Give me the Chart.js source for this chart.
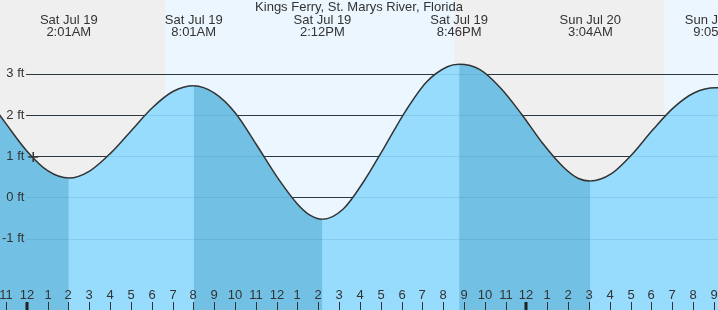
<!DOCTYPE html>
<html lang="en">
<head>
  <meta charset="UTF-8">
  <title>Kings Ferry, St. Marys River, Florida</title>
  <script src="https://cdn.jsdelivr.net/npm/chart.js"></script>
  <style>
    html, body {
      margin: 0;
      padding: 0;
      background: #fff;
    }
    canvas {
      display: block;
    }
  </style>
</head>
<body>
  <canvas id="tideChart" width="718" height="310"></canvas>

  <script>
    // hours after Sat Jul 19 00:00, water level in feet
    const tideHours = [-2, -1, 0, 1, 2.017, 3.017, 4.017, 5.017, 6.017, 7.017, 8.017, 9.017, 10.017, 11.017, 12.017, 13.017, 13.6, 14.2, 15.2, 16.2, 17.2, 18.2, 19.2, 20.2, 20.767, 21.767, 22.767, 23.767, 24.767, 25.767, 26.5, 27.067, 28.067, 29.067, 30.067, 31.067, 32.067, 33.083, 33.3];
    const tideFeet = [2.48, 1.79, 1.13, 0.65, 0.47, 0.64, 1.07, 1.62, 2.17, 2.57, 2.71, 2.53, 2.05, 1.29, 0.50, -0.17, -0.43, -0.53, -0.28, 0.40, 1.24, 2.10, 2.80, 3.17, 3.23, 3.10, 2.65, 2.02, 1.32, 0.74, 0.46, 0.40, 0.57, 1.04, 1.64, 2.18, 2.54, 2.66, 2.66];

    // high / low times and their header labels
    const extremeHours = [2.017, 8.017, 14.2, 20.767, 27.067, 33.083];
    const extremeLabels = [
      ['Sat Jul 19', '2:01AM'],
      ['Sat Jul 19', '8:01AM'],
      ['Sat Jul 19', '2:12PM'],
      ['Sat Jul 19', '8:46PM'],
      ['Sun Jul 20', '3:04AM'],
      ['Sun Jul 20', '9:05AM']
    ];

    // daylight spans (sunrise, sunset)
    const daylight = [[6.64, 20.53], [30.62, 40]];

    // current time marker
    const nowHour = 0.31;
    const nowFeet = 0.98;

    const feetTicks = [-1, 0, 1, 2, 3];
    const hourTicks = [];
    for (let h = -1; h <= 33; h++) hourTicks.push(h);

    const FONT = 'Arial, "Liberation Sans", sans-serif';
    const RISING = '#97dcfd';
    const FALLING = '#72c1e5';

    const tidePoints = tideHours.map((h, i) => ({ x: h, y: tideFeet[i] }));

    const tideDecor = {
      id: 'tideDecor',
      beforeDatasetsDraw(chart) {
        const { ctx, chartArea: a, scales: { x, y } } = chart;
        ctx.save();
        // night / day background
        ctx.fillStyle = '#efefef';
        ctx.fillRect(a.left, a.top, a.width, a.height);
        ctx.fillStyle = '#ebf6fe';
        daylight.forEach(([s, e]) => {
          const x0 = x.getPixelForValue(s);
          const x1 = x.getPixelForValue(e);
          ctx.fillRect(x0, a.top, x1 - x0, a.height);
        });
        // dark grid lines (covered by the water fill)
        ctx.strokeStyle = '#333';
        ctx.lineWidth = 1;
        feetTicks.forEach(v => {
          const py = Math.round(y.getPixelForValue(v)) + 0.5;
          ctx.beginPath();
          ctx.moveTo(26, py);
          ctx.lineTo(a.right, py);
          ctx.stroke();
        });
        ctx.restore();
      },
      afterDatasetsDraw(chart) {
        const { ctx, chartArea: a, scales: { x, y } } = chart;
        ctx.save();
        // faint grid lines through the water
        ctx.strokeStyle = 'rgba(0, 90, 150, 0.13)';
        ctx.lineWidth = 1;
        feetTicks.forEach(v => {
          const py = Math.round(y.getPixelForValue(v)) + 0.5;
          ctx.beginPath();
          ctx.moveTo(26, py);
          ctx.lineTo(a.right, py);
          ctx.stroke();
        });

        // title and high/low labels
        ctx.fillStyle = '#333';
        ctx.font = '13px ' + FONT;
        ctx.textAlign = 'center';
        ctx.textBaseline = 'middle';
        ctx.fillText('Kings Ferry, St. Marys River, Florida', (a.left + a.right) / 2, 7);
        extremeHours.forEach((h, i) => {
          const px = x.getPixelForValue(h);
          ctx.fillText(extremeLabels[i][0], px, 20);
          ctx.fillText(extremeLabels[i][1], px, 32);
        });

        // hour labels and tick marks along the bottom
        hourTicks.forEach(h => {
          const px = Math.round(x.getPixelForValue(h));
          const clock = ((h % 12) + 12) % 12 || 12;
          ctx.fillStyle = '#333';
          ctx.fillText(String(clock), px, 295);
          const midnight = ((h % 24) + 24) % 24 === 0;
          if (midnight) {
            ctx.fillStyle = '#222';
            ctx.fillRect(px - 1.5, 302, 3, 8);
          } else {
            ctx.fillRect(px, 302, 1, 8);
          }
        });
        ctx.restore();
      }
    };

    new Chart(document.getElementById('tideChart'), {
      type: 'line',
      data: {
        datasets: [
          {
            // current time marker
            data: [{ x: nowHour, y: nowFeet }],
            order: 0,
            showLine: false,
            pointStyle: 'cross',
            pointRadius: 5,
            pointBorderWidth: 1.5,
            pointBorderColor: '#333',
            borderColor: '#333',
            fill: false
          },
          {
            // tide curve, falling tide darker, rising tide lighter
            data: tidePoints,
            order: 1,
            borderColor: '#333',
            borderWidth: 1.5,
            pointRadius: 0,
            fill: 'start',
            backgroundColor: RISING,
            cubicInterpolationMode: 'monotone',
            segment: {
              backgroundColor: c => c.p1.parsed.y < c.p0.parsed.y ? FALLING : RISING
            }
          },
          {
            // plain water underneath, hides seams between segments
            data: tidePoints,
            order: 2,
            borderWidth: 0,
            borderColor: 'rgba(0,0,0,0)',
            pointRadius: 0,
            fill: 'start',
            backgroundColor: RISING,
            cubicInterpolationMode: 'monotone'
          }
        ]
      },
      options: {
        responsive: false,
        devicePixelRatio: 1,
        animation: false,
        layout: { padding: 0, autoPadding: false },
        plugins: {
          legend: { display: false },
          tooltip: { enabled: false }
        },
        scales: {
          x: {
            type: 'linear',
            display: false,
            min: -1.287,
            max: 33.2
          },
          y: {
            type: 'linear',
            position: 'left',
            min: -2.73,
            max: 4.79,
            grid: { display: false },
            border: { display: false },
            afterBuildTicks: s => { s.ticks = feetTicks.map(v => ({ value: v })); },
            afterFit: s => {
              s.width = 0;
              s.paddingTop = 0;
              s.paddingBottom = 0;
            },
            ticks: {
              z: 1,
              mirror: true,
              padding: 2,
              crossAlign: 'far',
              color: '#333',
              font: { family: FONT, size: 13 },
              callback: v => v + ' ft'
            }
          }
        }
      },
      plugins: [tideDecor]
    });
  </script>
</body>
</html>
